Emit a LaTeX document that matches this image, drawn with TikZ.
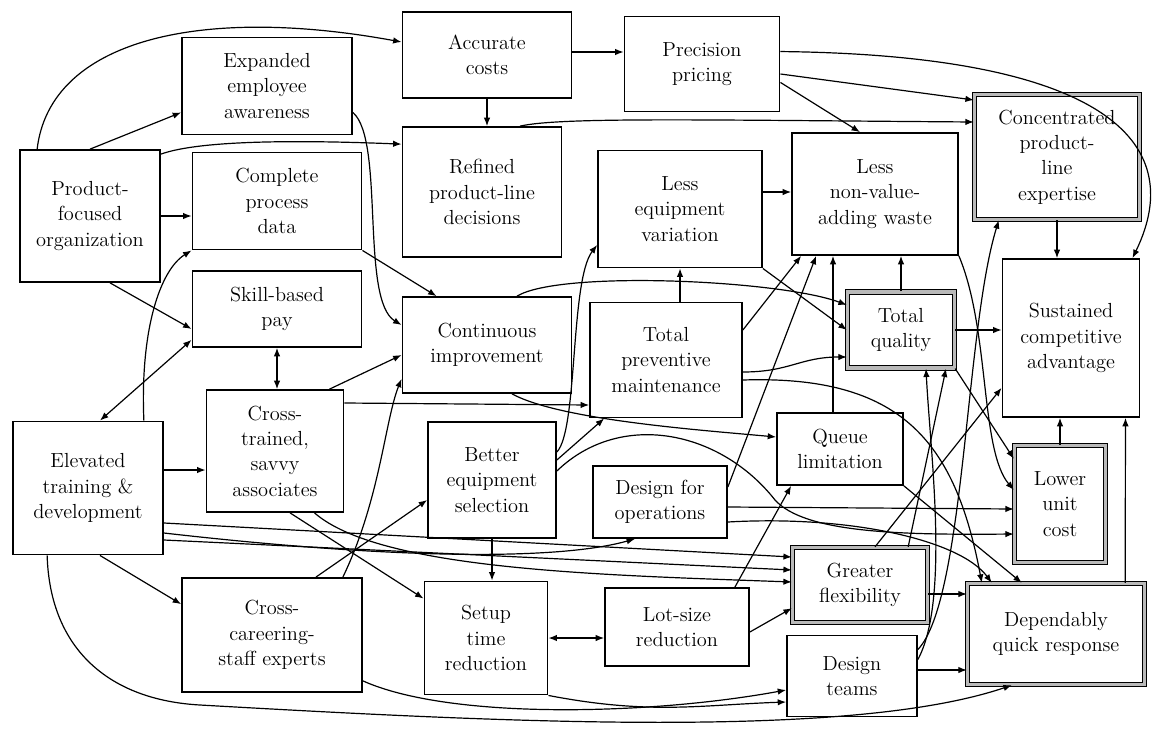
\documentclass[tikz,border=0pt]{standalone}
\usepackage{tikz}
\usetikzlibrary{arrows.meta, positioning, calc}
\tikzset{
  factor/.style = {rectangle, draw=black, line width=1.2pt, fill=white,
    align=center, inner sep=1pt, font=\fontsize{14.5}{18}\selectfont},
  keyFactor/.style = {factor, line width=0.8pt, double=gray!55,
    double distance=2.4pt},
  lnk/.style = {-{Latex[length=6pt,width=4.6pt]}, line width=0.85pt},
  lnkBoth/.style = {{Latex[length=6pt,width=4.6pt]}-{Latex[length=6pt,width=4.6pt]},
    line width=0.85pt},
}

\begin{document}
\begin{tikzpicture}[x=0.025cm, y=-0.025cm]

\path[use as bounding box, fill=white] (0,0) rectangle (1174,729);

% left column
\node[factor, minimum width=4.25cm, minimum height=2.43cm] (eea) at (267,86) {Expanded\\employee\\awareness};
\node[factor, minimum width=3.5cm, minimum height=3.3cm] (pfo) at (90,216) {Product-\\focused\\organization};
\node[factor, minimum width=4.23cm, minimum height=2.43cm] (cpd) at (277,201) {Complete\\process\\data};
\node[factor, minimum width=4.23cm, minimum height=1.9cm] (sbp) at (277,309) {Skill-based\\pay};
\node[factor, minimum width=3.43cm, minimum height=3.05cm] (cta) at (275,451) {Cross-\\trained,\\savvy\\associates};
\node[factor, minimum width=3.75cm, minimum height=3.33cm] (etd) at (88,488) {Elevated\\training \&\\development};
\node[factor, minimum width=4.5cm, minimum height=2.85cm] (ccs) at (272,635) {Cross-\\careering-\\staff experts};

% middle
\node[factor, minimum width=4.23cm, minimum height=2.15cm] (ac) at (487,55) {Accurate\\costs};
\node[factor, minimum width=3.88cm, minimum height=2.38cm] (pp) at (702,64) {Precision\\pricing};
\node[factor, minimum width=3.98cm, minimum height=3.25cm] (rpl) at (482,192) {Refined\\product-line\\decisions};
\node[factor, minimum width=4.1cm, minimum height=2.93cm] (lev) at (680,209) {Less\\equipment\\variation};
\node[factor, minimum width=4.23cm, minimum height=2.4cm] (ci) at (487,345) {Continuous\\improvement};
\node[factor, minimum width=3.8cm, minimum height=2.88cm] (tpm) at (666,360) {Total\\preventive\\maintenance};
\node[factor, minimum width=3.2cm, minimum height=2.9cm] (bes) at (492,480) {Better\\equipment\\selection};
\node[factor, minimum width=3.35cm, minimum height=1.8cm] (dfo) at (660,502) {Design for\\operations};
\node[factor, minimum width=3.08cm, minimum height=2.83cm] (stp) at (486,638) {Setup\\time\\reduction};
\node[factor, minimum width=3.6cm, minimum height=1.95cm] (lsr) at (677,627) {Lot-size\\reduction};

% right
\node[factor, minimum width=4.15cm, minimum height=3.05cm] (lnv) at (875,194) {Less\\non-value-\\adding waste};
\node[keyFactor, minimum width=4.13cm, minimum height=3.13cm] (cpe) at (1057,157) {Concentrated\\product-\\line\\expertise};
\node[keyFactor, minimum width=2.68cm, minimum height=1.9cm] (tq) at (901,330) {Total\\quality};
\node[factor, minimum width=3.43cm, minimum height=3.95cm] (sca) at (1071,338) {Sustained\\competitive\\advantage};
\node[factor, minimum width=3.15cm, minimum height=1.8cm] (ql) at (840,449) {Queue\\limitation};
\node[keyFactor, minimum width=2.28cm, minimum height=2.93cm] (luc) at (1060,504) {Lower\\unit\\cost};
\node[keyFactor, minimum width=3.38cm, minimum height=1.88cm] (gf) at (860,585) {Greater\\flexibility};
\node[keyFactor, minimum width=4.43cm, minimum height=2.53cm] (dqr) at (1056,634) {Dependably\\quick response};
\node[factor, minimum width=3.25cm, minimum height=2.03cm] (dt) at (852,676) {Design\\teams};

% links from the left column
\draw[lnk] (pfo.north) -- ($(eea.south west)+(0,-23)$);
\draw[lnk] ($(pfo.north west)+(18,0)$) .. controls (50,40) and (200,5) .. ($(ac.west)+(0,-13)$);
\draw[lnk] ($(pfo.north east)+(0,5)$) .. controls (200,140) and (300,140) .. ($(rpl.north west)+(0,18)$);
\draw[lnk] (pfo.east) -- (pfo.east -| cpd.west);
\draw[lnk] ($(pfo.south)+(20,0)$) -- ($(sbp.west)+(0,20)$);
\draw[lnkBoth] ($(etd.north)+(12,0)$) -- ($(sbp.south west)+(0,-8)$);
\draw[lnk] ($(etd.north east)+(-20,0)$) .. controls (140,330) and (160,270) .. (cpd.south west);
\draw[lnk] ($(eea.south east)+(0,-23)$) .. controls (385,140) and (360,300) .. ($(ci.west)+(0,-20)$);
\draw[lnk] (cpd.south east) -- ($(ci.north west)+(35,0)$);
\draw[lnkBoth] (sbp.south) -- (sbp.south |- cta.north);
\draw[lnk] ($(cta.north east)+(-15,0)$) -- ($(ci.west)+(0,10)$);
\draw[lnk] ($(etd.east)+(0,-18)$) -- ($(cta.west)+(0,19)$);
\draw[lnk] ($(etd.south)+(12,0)$) -- ($(ccs.north west)+(0,27)$);
\draw[lnk] ($(ccs.north east)+(-47,0)$) -- ($(bes.west)+(0,20)$);
\draw[lnk] ($(ccs.north east)+(-20,0)$) .. controls (380,500) and (385,420) .. ($(ci.south west)+(0,-15)$);
\draw[lnk] ($(etd.south west)+(35,0)$) .. controls (50,650) and (110,700) .. (200,705)
  .. controls (500,722) and (850,740) .. ($(dqr.south west)+(45,0)$);
\draw[lnk] ($(etd.east)+(0,35)$) -- ($(gf.west)+(0,-28)$);
\draw[lnk] ($(etd.east)+(0,52)$) -- ($(gf.west)+(0,-15)$);
\draw[lnk] ($(etd.east)+(0,45)$) .. controls (400,560) and (560,560) .. ($(dfo.south)+(-25,0)$);
\draw[lnk] ($(cta.south)+(15,0)$) -- ($(stp.north west)+(0,18)$);
\draw[lnk] ($(cta.south east)+(-30,0)$) .. controls (380,570) and (600,575) .. ($(gf.west)+(0,-3)$);
\draw[lnk] ($(cta.east)+(0,-48)$) -- ($(tpm.west)+(0,45)$);
\draw[lnk] ($(ccs.south east)+(0,-12)$) .. controls (450,720) and (650,715) .. ($(dt.west)+(0,14)$);

% links in the middle
\draw[lnk] ($(ac.east)+(0,-3)$) -- ($(pp.west)+(0,-12)$);
\draw[lnk] (ac.south) -- (ac.south |- rpl.north);
\draw[lnk] ($(rpl.north)+(38,0)$) .. controls (560,117) and (700,120) .. ($(cpe.west)+(0,-35)$);
\draw[lnk] ($(ci.north)+(30,0)$) .. controls (560,270) and (780,280) .. ($(tq.west)+(0,-25)$);
\draw[lnk] ($(ci.south)+(25,0)$) .. controls (560,420) and (700,430) .. ($(ql.west)+(0,-12)$);
\draw[lnk] (bes.south) -- (bes.south |- stp.north);
\draw[lnkBoth] (stp.east) -- (stp.east -| lsr.west);
\draw[lnk] ($(bes.east)+(0,-20)$) -- ($(tpm.south west)+(15,0)$);
\draw[lnk] ($(bes.east)+(0,-28)$) .. controls (578,430) and (570,280) .. ($(lev.west)+(0,36)$);
\draw[lnk] ($(bes.east)+(0,-9)$) .. controls (620,410) and (720,430) .. (775,500)
  .. controls (805,533) and (900,535) .. ($(luc.west)+(0,30)$);
\draw[lnk] (lev.south |- tpm.north) -- (lev.south);
\draw[lnk] ($(lev.east)+(0,-17)$) -- ($(lnv.west)+(0,-2)$);
\draw[lnk] (lev.south east) -- (tq.west);
\draw[lnk] ($(tpm.east)+(0,-30)$) -- ($(lnv.south west)+(10,0)$);
\draw[lnk] ($(tpm.east)+(0,12)$) .. controls (790,372) and (800,357) .. ($(tq.west)+(0,27)$);
\draw[lnk] ($(tpm.east)+(0,20)$) .. controls (900,375) and (955,440) .. ($(dqr.north west)+(15,0)$);
\draw[lnk] ($(dfo.east)+(0,-15)$) -- ($(lnv.south west)+(25,0)$);
\draw[lnk] ($(dfo.east)+(0,5)$) -- ($(luc.west)+(0,5)$);
\draw[lnk] ($(dfo.east)+(0,20)$) .. controls (850,515) and (960,540) .. ($(dqr.north west)+(25,0)$);
\draw[lnk] ($(lsr.east)+(0,5)$) -- ($(gf.south west)+(0,-15)$);
\draw[lnk] ($(lsr.north east)+(-15,0)$) -- ($(ql.south west)+(15,0)$);
\draw[lnk] (stp.south east) .. controls (650,715) and (700,705) .. ($(dt.west)+(0,26)$);

% links on the right
\draw[lnk] ($(pp.east)+(0,10)$) -- ($(cpe.west)+(0,-57)$);
\draw[lnk] ($(pp.south east)+(0,-30)$) -- ($(lnv.north)+(-15,0)$);
\draw[lnk] ($(pp.north east)+(0,36)$) .. controls (1100,55) and (1190,140) .. ($(sca.north east)+(-8,0)$);
\draw[lnk] (cpe.south) -- (cpe.south |- sca.north);
\draw[lnk] (tq.north) -- (tq.north |- lnv.south);
\draw[lnk] (tq.east) -- (tq.east -| sca.west);
\draw[lnk] ($(ql.north)+(-7,0)$) -- ($(lnv.south)+(-42,0)$);
\draw[lnk] (ql.south east) -- ($(dqr.north west)+(55,0)$);
\draw[lnk] (lnv.south east) .. controls (990,330) and (980,450) .. ($(luc.west)+(0,-14)$);
\draw[lnk] (tq.south east) -- ($(luc.north west)+(0,14)$);
\draw[lnk] (luc.north) -- (luc.north |- sca.south);
\draw[lnk] ($(dqr.north east)+(-20,0)$) -- ($(sca.south east)+(-15,0)$);
\draw[lnk] ($(gf.north)+(15,0)$) -- ($(sca.south west)+(0,-30)$);
\draw[lnk] ($(gf.north east)+(-20,0)$) -- ($(tq.south)+(45,0)$);
\draw[lnk] ($(gf.east)+(0,9)$) -- ($(dqr.west)+(0,-40)$);
\draw[lnk] ($(dt.east)+(0,-6)$) -- ($(dqr.west)+(0,36)$);
\draw[lnk] ($(dt.north east)+(0,15)$) .. controls (965,600) and (965,330) .. ($(cpe.south west)+(25,0)$);
\draw[lnk] ($(dt.north east)+(0,25)$) .. controls (950,600) and (930,450) .. ($(tq.south)+(25,0)$);

\end{tikzpicture}
\end{document}
